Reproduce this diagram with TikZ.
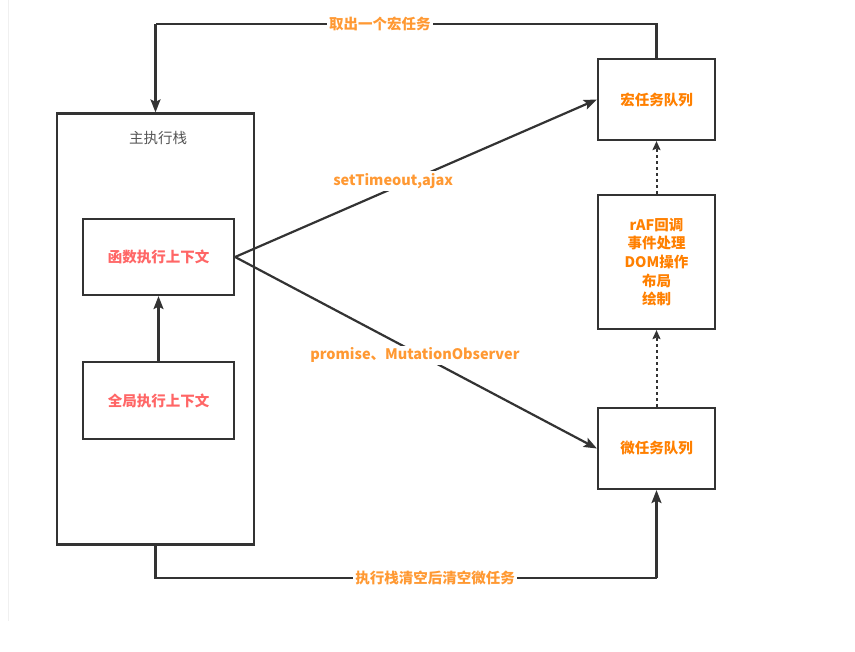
\documentclass[tikz,border=0pt]{standalone}
\usepackage{fontspec}
\setmainfont{Noto Sans CJK SC}
\usetikzlibrary{arrows.meta}
\definecolor{ln}{HTML}{333333}
\definecolor{qorange}{HTML}{FF8000}
\definecolor{lorange}{HTML}{FF9933}
\definecolor{ctxred}{HTML}{FF6666}
\definecolor{graytxt}{HTML}{555555}
\tikzset{
  box/.style={draw=ln, line width=2.2pt, fill=white, inner sep=0pt, align=center},
  conn/.style={draw=ln, line width=2.2pt, -{Stealth[length=13pt,width=10pt,inset=2.5pt]}},
  plain/.style={draw=ln, line width=2.2pt},
  dotconn/.style={draw=ln, line width=2pt, dash pattern=on 3pt off 3pt, -{Stealth[length=9pt,width=8pt,inset=1.5pt]}},
  lbl/.style={fill=white, text=lorange, font=\fontsize{14.5}{16}\selectfont\bfseries, inner sep=2pt},
  qtxt/.style={text=qorange, font=\fontsize{14.5}{18.7}\selectfont\bfseries},
  ctxtxt/.style={text=ctxred, font=\fontsize{14.5}{16}\selectfont\bfseries},
}
\begin{document}
\begin{tikzpicture}[x=1pt,y=-1pt]
\useasboundingbox (0,0) rectangle (855,652);
\draw[draw=black!6, line width=1pt] (8,0) -- (8,621);
% main stack
\node[box, minimum width=197pt, minimum height=431pt] (main) at (155.5,329) {};
\node[text=graytxt, font=\fontsize{14.5}{16}\selectfont] (title) at (158,138) {主执行栈};
\node[box, ctxtxt, minimum width=151pt, minimum height=76pt] (func) at (158.5,257) {函数执行上下文};
\node[box, ctxtxt, minimum width=151pt, minimum height=77pt] (global) at (158.5,400.5) {全局执行上下文};
% queues
\node[box, qtxt, minimum width=117pt, minimum height=81pt] (macro) at (656.5,99.5) {宏任务队列};
\node[box, qtxt, minimum width=117pt, minimum height=134pt] (raf) at (656.5,262) {rAF回调\\事件处理\\DOM操作\\布局\\绘制};
\node[box, qtxt, minimum width=117pt, minimum height=81pt] (micro) at (656.5,448.5) {微任务队列};
% connectors
\draw[conn] (global.north) -- (func.south);
\draw[conn] (func.east) -- node[lbl, pos=0.437, yshift=7pt] (lmac) {setTimeout,ajax\hspace{40pt}} (macro.west);
\draw[conn] (func.east) -- node[lbl, pos=0.497, yshift=-3pt] (lmic) {promise、MutationObserver} (micro.west);
\draw[dotconn] (raf.north) -- (macro.south);
\draw[dotconn] (micro.north) -- (raf.south);
\coordinate (tr) at (656.5,24);
\coordinate (tl) at (155.5,24);
\draw[plain] (macro.north) -- (tr) -- node[lbl, pos=0.552] (ltop) {取出一个宏任务} (tl);
\draw[conn] (tl) -- (main.north);
\coordinate (bl) at (155.5,578);
\coordinate (br) at (656.5,578);
\draw[plain] (main.south) -- (bl) -- node[lbl, pos=0.558] (lbot) {执行栈清空后清空微任务} (br);
\draw[conn] (br) -- (micro.south);
\end{tikzpicture}
\end{document}
